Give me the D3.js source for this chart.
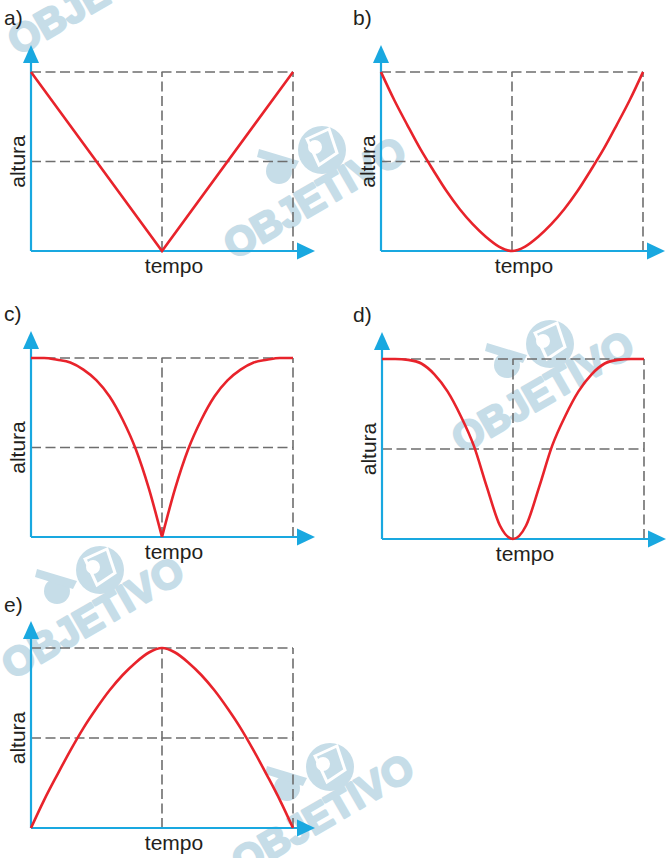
<!DOCTYPE html>
<html>
<head>
<meta charset="utf-8">
<script src="https://cdn.jsdelivr.net/npm/d3@7"></script>
<style>
  body { margin: 0; background: #fff; }
  text { font-family: "Liberation Sans", Arial, sans-serif; }
</style>
</head>
<body>
<div id="chart"></div>
<script>
// tempo steps shared by the curved panels (0 = origin, 1 = middle, 2 = right dashed line)
var tempo = [0, 0.1, 0.2, 0.3, 0.4, 0.5, 0.6, 0.7, 0.8, 0.9, 1,
             1.1, 1.2, 1.3, 1.4, 1.5, 1.6, 1.7, 1.8, 1.9, 2];

var tempoA = [0, 1, 2];
var alturaA = [2, 0, 2];

var alturaB = [2, 1.69, 1.41, 1.14, 0.90, 0.67, 0.47, 0.30, 0.16, 0.05, 0,
               0.05, 0.16, 0.30, 0.47, 0.67, 0.90, 1.14, 1.41, 1.69, 2];

var alturaC = [2, 2.0, 1.98, 1.95, 1.87, 1.75, 1.57, 1.31, 0.98, 0.54, 0,
               0.54, 0.98, 1.31, 1.57, 1.75, 1.87, 1.95, 1.98, 2.0, 2];

var alturaD = [2, 2.0, 1.99, 1.95, 1.83, 1.64, 1.37, 1.04, 0.58, 0.15, 0,
               0.15, 0.58, 1.04, 1.37, 1.64, 1.83, 1.95, 1.99, 2.0, 2];

var alturaE = [0, 0.31, 0.59, 0.86, 1.11, 1.33, 1.53, 1.70, 1.84, 1.95, 2,
               1.95, 1.84, 1.70, 1.53, 1.33, 1.11, 0.86, 0.59, 0.31, 0];

var labels = ["a)", "b)", "c)", "d)", "e)"];
var xLabel = "tempo";
var yLabel = "altura";
var watermark = "OBJETIVO";

var zip = function(xs, ys) {
  return xs.map(function(x, i) { return {t: x, h: ys[i]}; });
};

// c has a sharp cusp in the middle, so it is drawn as two pieces
var panels = [
  {x0: 31,  x1: 293, y0: 251, y1: 72,  lx: 4,   ly: 25,  curve: d3.curveLinear,
   pieces: [zip(tempoA, alturaA)]},
  {x0: 381, x1: 643, y0: 251, y1: 72,  lx: 353, ly: 25,  curve: d3.curveMonotoneX,
   pieces: [zip(tempo, alturaB)]},
  {x0: 31,  x1: 293, y0: 537, y1: 358, lx: 4,   ly: 321, curve: d3.curveMonotoneX,
   pieces: [zip(tempo.slice(0, 11), alturaC.slice(0, 11)), zip(tempo.slice(10), alturaC.slice(10))]},
  {x0: 382, x1: 644, y0: 539, y1: 359, lx: 353, ly: 322, curve: d3.curveMonotoneX,
   pieces: [zip(tempo, alturaD)]},
  {x0: 31,  x1: 293, y0: 828, y1: 648, lx: 4,   ly: 612, curve: d3.curveMonotoneX,
   pieces: [zip(tempo, alturaE)]}
];

var marks = [{x: 18, y: 56}, {x: 234, y: 260}, {x: 462, y: 454}, {x: 12, y: 680}, {x: 242, y: 877}];

var width = 671, height = 858;
var blue = "#19a8e0", red = "#e8232b", grey = "#6e6e6e", wm = "#c6dde8";

var svg = d3.select("#chart")
  .append("svg")
    .attr("width", width)
    .attr("height", height);

// watermark logos behind everything
var wmG = svg.append("g");
marks.forEach(function(m) {
  var g = wmG.append("g").attr("transform", "translate(" + m.x + "," + m.y + ")");
  g.append("circle").attr("cx", 88).attr("cy", -110).attr("r", 24).attr("fill", wm);
  g.append("path")
    .attr("d", "M73,-121 L95,-131 L103,-107 L85,-95 Z")
    .attr("fill", "none").attr("stroke", "#fff").attr("stroke-width", 3);
  g.append("circle").attr("cx", 81).attr("cy", -113).attr("r", 7).attr("fill", "#fff");
  g.append("circle").attr("cx", 45).attr("cy", -89).attr("r", 13).attr("fill", wm);
  g.append("path")
    .attr("d", "M25,-111 L65,-99 L61,-91 L23,-103 Z")
    .attr("fill", wm);
  g.append("text")
    .attr("transform", "rotate(-30)")
    .attr("font-size", 40)
    .attr("font-weight", "bold")
    .attr("fill", wm)
    .attr("stroke", wm)
    .attr("stroke-width", 2.5)
    .attr("stroke-linejoin", "round")
    .text(watermark);
});

panels.forEach(function(p, i) {
  var x = d3.scaleLinear().domain([0, 2]).range([p.x0, p.x1]);
  var y = d3.scaleLinear().domain([0, 2]).range([p.y0, p.y1]);
  var g = svg.append("g");

  // dashed guides
  var dash = [
    [0, 2, 2, 2], [0, 1, 2, 1], [1, 0, 1, 2], [2, 0, 2, 2]
  ];
  g.selectAll(".guide")
    .data(dash)
    .enter().append("line")
      .attr("x1", function(d) { return x(d[0]); })
      .attr("y1", function(d) { return y(d[1]); })
      .attr("x2", function(d) { return x(d[2]); })
      .attr("y2", function(d) { return y(d[3]); })
      .attr("stroke", grey)
      .attr("stroke-width", 1.6)
      .attr("stroke-dasharray", "10,4.5");

  // axes with arrow heads
  var xEnd = x(2) + 22, yEnd = y(2) - 27;
  g.append("line")
    .attr("x1", x(0)).attr("y1", y(0)).attr("x2", xEnd - 14).attr("y2", y(0))
    .attr("stroke", blue).attr("stroke-width", 2.2);
  g.append("line")
    .attr("x1", x(0)).attr("y1", y(0)).attr("x2", x(0)).attr("y2", yEnd + 14)
    .attr("stroke", blue).attr("stroke-width", 2.2);
  g.append("path")
    .attr("d", "M" + xEnd + "," + y(0) + " L" + (xEnd - 18) + "," + (y(0) - 8.5) +
               " L" + (xEnd - 18) + "," + (y(0) + 8.5) + " Z")
    .attr("fill", blue);
  g.append("path")
    .attr("d", "M" + x(0) + "," + yEnd + " L" + (x(0) - 8) + "," + (yEnd + 18) +
               " L" + (x(0) + 8) + "," + (yEnd + 18) + " Z")
    .attr("fill", blue);

  // curve
  var line = d3.line()
    .x(function(d) { return x(d.t); })
    .y(function(d) { return y(d.h); })
    .curve(p.curve);
  p.pieces.forEach(function(piece) {
    g.append("path")
      .datum(piece)
      .attr("fill", "none")
      .attr("stroke", red)
      .attr("stroke-width", 2.6)
      .attr("stroke-linejoin", "miter")
      .attr("d", line);
  });

  // texts
  g.append("text")
    .attr("x", p.lx).attr("y", p.ly)
    .attr("font-size", 21).attr("fill", "#231f20")
    .text(labels[i]);
  g.append("text")
    .attr("x", x(1) + 12).attr("y", y(0) + 22)
    .attr("text-anchor", "middle")
    .attr("font-size", 21).attr("fill", "#231f20")
    .text(xLabel);
  g.append("text")
    .attr("transform", "translate(" + (x(0) - 6) + "," + y(1) + ") rotate(-90)")
    .attr("text-anchor", "middle")
    .attr("font-size", 21).attr("fill", "#231f20")
    .text(yLabel);
});
</script>
</body>
</html>
